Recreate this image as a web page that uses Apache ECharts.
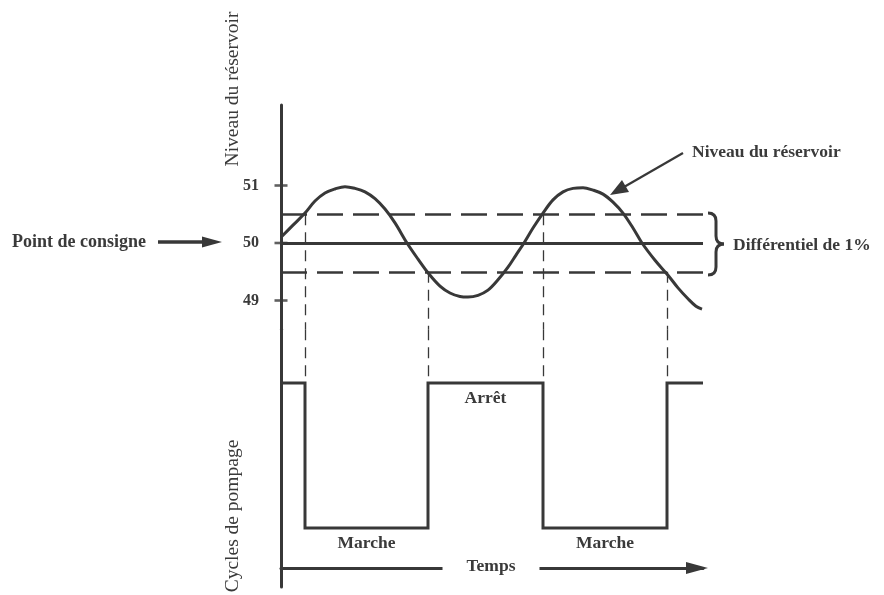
<!DOCTYPE html>
<html>
<head>
<meta charset="utf-8">
<script src="https://cdn.jsdelivr.net/npm/echarts@6/dist/echarts.min.js"></script>
<style>html,body{margin:0;padding:0;background:#fff;}#c{width:884px;height:595px;}</style>
</head>
<body>
<div id="c"></div>
<script>
// ---- data ----
const levelTime = [0,1.2,2.4,3.4,4.4,5.4,6.4,7.4,8.4,9.4,10.4,11.4,12.6,13.7,14.8,15.9,16.9,17.9,18.7,19.7,20.7,21.7,22.7,23.5,24.3,25.2,26.2,27.2,28.2,29.2,30.2,31.2,32.2,33.2,34.2,35.2,36.1,37.4,38.7,39.7,40.7,41.5,42.1];
const levelValues = [50.10,50.31,50.52,50.73,50.87,50.94,50.98,50.95,50.89,50.77,50.59,50.35,50.00,49.72,49.46,49.25,49.13,49.07,49.06,49.09,49.18,49.36,49.58,49.79,50.00,50.26,50.52,50.75,50.89,50.95,50.96,50.92,50.85,50.71,50.52,50.26,50.00,49.70,49.44,49.22,49.03,48.90,48.85];
const levelTicks = [49, 50, 51];
const setPoint = 50;
const bandHigh = 50.5;
const bandLow = 49.5;
const pumpSwitchTimes = [0, 2.4, 14.7, 26.2, 38.6, 42.2];
const pumpStates = [1, 0, 1, 0, 1, 1];       // 1 = Arrêt, 0 = Marche
const switchLevels = [bandHigh, bandLow, bandHigh, bandLow]; // level at switching times 1..4
const stateNames = {0: 'Marche', 1: 'Arrêt'};
const labeledIntervals = [1, 2, 3];

// ---- axis ranges ----
const T_MAX = 42.2;
const LEVEL_MIN = 48.5, LEVEL_MAX = 52.4;
const PUMP_MIN = -0.4069, PUMP_MAX = 1.3707;

const INK = '#383838';
const TXT = '#3a3a3a';
const SERIF = '"Liberation Serif","Times New Roman",serif';

// build step polyline
const pumpData = [];
for (let i = 0; i < pumpSwitchTimes.length; i++) {
  if (i > 0) pumpData.push([pumpSwitchTimes[i], pumpStates[i - 1]]);
  pumpData.push([pumpSwitchTimes[i], pumpStates[i]]);
}
const levelData = levelTime.map((t, i) => [t, levelValues[i]]);

const vDashStyle = {type: [11, 7], width: 1.3, color: INK};
const vLinesTop = [], vLinesBottom = [];
for (let k = 1; k <= 4; k++) {
  const t = pumpSwitchTimes[k];
  vLinesTop.push([{coord: [t, switchLevels[k - 1]]}, {coord: [t, LEVEL_MIN]}]);
  vLinesBottom.push([{coord: [t, PUMP_MAX]}, {coord: [t, Math.max(pumpStates[k], pumpStates[k - 1])]}]);
}
const stateMarks = labeledIntervals.map(i => ({
  coord: [(pumpSwitchTimes[i] + pumpSwitchTimes[i + 1]) / 2, pumpStates[i]],
  value: stateNames[pumpStates[i]]
}));

const chart = echarts.init(document.getElementById('c'), null, {renderer: 'canvas'});
const boldText = {fontFamily: SERIF, fontWeight: 'bold', fontSize: 17.5, fill: TXT};
const braceStyle = {stroke: INK, lineWidth: 3, fill: null};

chart.setOption({
  animation: false,
  backgroundColor: '#fff',
  grid: [
    {left: 281, top: 105, width: 422, height: 224.25},
    {left: 281, top: 329.25, width: 422, height: 257.75}
  ],
  xAxis: [
    {gridIndex: 0, type: 'value', min: 0, max: T_MAX, show: false},
    {gridIndex: 1, type: 'value', min: 0, max: T_MAX, offset: -19,
     axisLine: {show: true, onZero: false, symbol: ['none', 'triangle'], symbolSize: [12, 22], symbolOffset: [0, -6],
       lineStyle: {color: INK, width: 3}},
     axisTick: {show: false}, axisLabel: {show: false}, splitLine: {show: false}}
  ],
  yAxis: [
    {gridIndex: 0, type: 'value', min: LEVEL_MIN, max: LEVEL_MAX, interval: 0.5,
     axisLine: {show: true, onZero: false, lineStyle: {color: INK, width: 3}},
     axisTick: {show: false}, splitLine: {show: false},
     axisLabel: {margin: 22, fontFamily: SERIF, fontWeight: 'bold', fontSize: 16, color: TXT,
       showMinLabel: false, showMaxLabel: false,
       formatter: v => levelTicks.indexOf(Math.round(v * 100) / 100) >= 0 ? String(v) : ''}},
    {gridIndex: 1, type: 'value', min: PUMP_MIN, max: PUMP_MAX,
     axisLine: {show: true, onZero: false, lineStyle: {color: INK, width: 3}},
     axisTick: {show: false}, axisLabel: {show: false}, splitLine: {show: false}}
  ],
  series: [
    {
      name: 'Niveau du réservoir', type: 'line', xAxisIndex: 0, yAxisIndex: 0,
      data: levelData, smooth: 0.35, showSymbol: false, clip: false,
      lineStyle: {color: INK, width: 3}, z: 5,
      markLine: {
        silent: true, symbol: ['none', 'none'], label: {show: false},
        data: [
          {yAxis: setPoint, lineStyle: {type: 'solid', width: 2.8, color: INK}},
          {yAxis: bandHigh, lineStyle: {type: [26, 10], width: 2.6, color: INK}},
          {yAxis: bandLow, lineStyle: {type: [26, 10], width: 2.6, color: INK}}
        ].concat(vLinesTop.map(p => [Object.assign({lineStyle: vDashStyle}, p[0]), p[1]]))
      }
    },
    {
      name: 'ticks', type: 'scatter', xAxisIndex: 0, yAxisIndex: 0,
      data: levelTicks.map(v => [0, v]), symbol: 'rect', symbolSize: [13, 2.6],
      itemStyle: {color: INK}, clip: false, silent: true, z: 6
    },
    {
      name: 'Cycles de pompage', type: 'line', xAxisIndex: 1, yAxisIndex: 1,
      data: pumpData, showSymbol: false, lineStyle: {color: INK, width: 3, join: 'miter'}, z: 5,
      markLine: {
        silent: true, symbol: ['none', 'none'], label: {show: false},
        data: vLinesBottom.map(p => [Object.assign({lineStyle: vDashStyle}, p[0]), p[1]])
      },
      markPoint: {
        silent: true, symbol: 'circle', symbolSize: 1, itemStyle: {color: 'rgba(0,0,0,0)'},
        label: {show: true, position: 'bottom', distance: 6, formatter: p => p.value,
          fontFamily: SERIF, fontWeight: 'bold', fontSize: 17.5, color: TXT},
        data: stateMarks
      }
    }
  ],
  graphic: [
    {type: 'text', x: 233, y: 89, rotation: Math.PI / 2,
     style: {text: 'Niveau du réservoir', fontFamily: SERIF, fontSize: 19.5, fill: TXT, align: 'center', verticalAlign: 'middle'}},
    {type: 'text', x: 233, y: 516, rotation: Math.PI / 2,
     style: {text: 'Cycles de pompage', fontFamily: SERIF, fontSize: 19.5, fill: TXT, align: 'center', verticalAlign: 'middle'}},
    {type: 'text', x: 12, y: 242, style: Object.assign({text: 'Point de consigne', align: 'left', verticalAlign: 'middle'}, boldText, {fontSize: 18})},
    {type: 'line', shape: {x1: 158, y1: 242, x2: 206, y2: 242}, style: {stroke: INK, lineWidth: 3.5}},
    {type: 'polygon', shape: {points: [[202, 236.5], [222, 242], [202, 247.5]]}, style: {fill: INK}},
    {type: 'text', x: 692, y: 152, style: Object.assign({text: 'Niveau du réservoir', align: 'left', verticalAlign: 'middle'}, boldText)},
    {type: 'line', shape: {x1: 683, y1: 153, x2: 624, y2: 187}, style: {stroke: INK, lineWidth: 2.2}},
    {type: 'polygon', shape: {points: [[610, 195], [622, 180], [629, 192]]}, style: {fill: INK}},
    {type: 'text', x: 733, y: 245, style: Object.assign({text: 'Différentiel de 1%', align: 'left', verticalAlign: 'middle'}, boldText)},
    {type: 'text', x: 491, y: 566, z: 100,
     style: Object.assign({text: 'Temps', align: 'center', verticalAlign: 'middle',
       backgroundColor: '#fff', padding: [3, 24, 3, 24]}, boldText)},
    {type: 'bezierCurve', shape: {x1: 708, y1: 213, cpx1: 716, cpy1: 213, x2: 716, y2: 221}, style: braceStyle},
    {type: 'line', shape: {x1: 716, y1: 221, x2: 716, y2: 236}, style: braceStyle},
    {type: 'bezierCurve', shape: {x1: 716, y1: 236, cpx1: 716, cpy1: 244, x2: 724, y2: 244}, style: braceStyle},
    {type: 'bezierCurve', shape: {x1: 724, y1: 244, cpx1: 716, cpy1: 244, x2: 716, y2: 252}, style: braceStyle},
    {type: 'line', shape: {x1: 716, y1: 252, x2: 716, y2: 267}, style: braceStyle},
    {type: 'bezierCurve', shape: {x1: 716, y1: 267, cpx1: 716, cpy1: 275, x2: 708, y2: 275}, style: braceStyle}
  ]
});
</script>
</body>
</html>
